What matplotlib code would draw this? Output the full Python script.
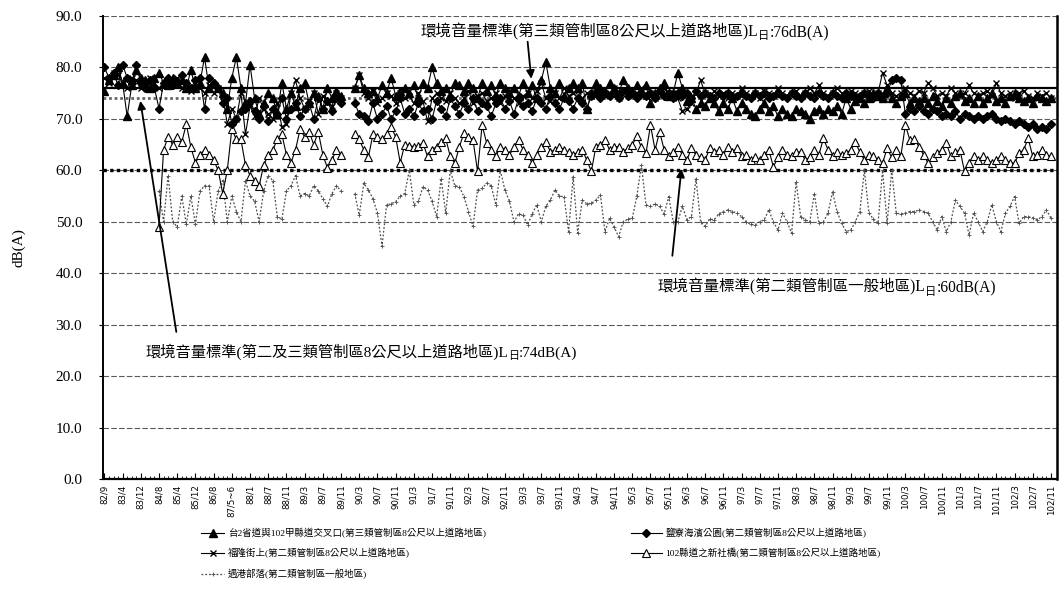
import matplotlib
matplotlib.use('Agg')
import matplotlib.pyplot as plt
import numpy as np

# x tick labels (one every 4 sampling points)
tick_labels = ['82/9', '83/4', '83/12', '84/8', '85/4', '85/12', '86/8', '87/5~6', '88/1',
               '88/7', '88/11', '89/3', '89/7', '89/11', '90/3', '90/7', '90/11', '91/3',
               '91/7', '91/11', '92/3', '92/7', '92/11', '93/3', '93/7', '93/11', '94/3',
               '94/7', '94/11', '95/3', '95/7', '95/11', '96/3', '96/7', '96/11', '97/3',
               '97/7', '97/11', '98/3', '98/7', '98/11', '99/3', '99/7', '99/11', '100/3',
               '100/7', '100/11', '101/3', '101/7', '101/11', '102/3', '102/7', '102/11']

names = ['台2省道與102甲縣道交叉口(第三類管制區8公尺以上道路地區)',
         '鹽寮海濱公園(第二類管制區8公尺以上道路地區)',
         '福隆街上(第二類管制區8公尺以上道路地區)',
         '102縣道之新社橋(第二類管制區8公尺以上道路地區)',
         '遇港部落(第二類管制區一般地區)']

# dB(A) readings, None = no measurement
site_a = [75.5, 77.5, 78.5, 80, 77, 70.5, 76.5, 79.5, 78, 77.5, 76, 78,
          79, 77, 76.5, 78, 77, 77.5, 76, 79.5, 76, 77, 82, 76,
          77, 76, 75, 72, 78, 82, 76, 73, 80.5, 74, 71, 73,
          75, 74, 71, 77, 72, 75, 72.5, 76, 77, 73, 75, 74.5, 72, 76, 74, 75.5, 74.5,
          None, None,
          76, 78.5, 76, 75, 75.5, 74, 76.5, 75, 78, 74.5, 75.5, 76,
          75, 76.5, 74, 77, 76, 80, 77, 75.5, 76, 74.5, 77, 76.5,
          75.5, 77, 76, 74, 77, 75.5, 76.5, 74.5, 77, 76, 75, 76,
          74.5, 77, 75, 76.5, 74, 77.5, 81, 76, 75, 77, 74.5, 76, 77,
          76, 77, 72, 75, 77, 76, 75.5, 77, 76, 75, 77.5, 76, 75, 76.5,
          75, 76.5, 73, 75, 76, 77, 74.5, 75, 79, 76, 73.5, 74, 72, 73,
          72.5, 74, 73, 71.5, 73, 72, 74, 71.5, 73, 72, 71, 70.5,
          72, 73, 71.5, 72.5, 70.5, 72, 71, 70.5, 72, 71.5, 71, 70,
          71.5, 72, 71, 72, 71.5, 72.5, 71, 74, 72, 73.5, 74, 73,
          74, 75, 74.5, 74, 76, 74, 73, 74.5, 75, 73, 74, 73.5,
          74, 73, 74.5, 73.5, 72.5, 74, 73, 74.5, 75, 73.5, 74, 73,
          74.5, 73, 74, 75, 73.5, 74, 73, 74.5, 75, 74, 73.5, 74, 73, 74.5, 74, 73.5, 74]

site_b = [80, 78, 79, 76.5, 80.5, 78, 77, 80.5, 77, 76, 77.5, 76,
          72, 77, 78, 76.5, 77, 78.5, 77, 76, 77.5, 78, 72, 78,
          77, 76, 73, 74, 69, 70, 71.5, 72, 73.5, 71.5, 70, 72.5,
          69.5, 72, 71, 74, 70, 72, 73, 70.5, 72, 73, 70, 74, 72, 73.5, 71.5, 74, 73,
          None, None,
          73, 71, 70.5, 69.5, 73, 70, 71, 72.5, 70, 71.5, 74, 71,
          72, 70.5, 73, 71.5, 72, 70, 73.5, 72, 70.5, 74, 72.5, 71,
          73, 72, 74, 71.5, 73, 72.5, 70.5, 73, 74, 72, 73.5, 71,
          74, 72.5, 73, 71.5, 74, 73, 72, 74.5, 73, 72, 74, 73.5, 72,
          74, 73, 72, 74.5, 75, 74, 75, 74.5, 75, 74, 75.5, 74.5, 75, 74,
          75, 74.5, 75, 74, 75.5, 74.5, 75, 74, 75, 74.5, 75, 74, 75.5, 74.5,
          75, 74.5, 74, 75, 74.5, 75, 74, 74.5, 75, 74.5, 74, 75,
          74.5, 75, 74, 74.5, 75, 74.5, 74, 75, 74.5, 74, 75, 74.5,
          74, 75, 74.5, 74, 75, 74.5, 74, 75, 74.5, 74, 74.5, 75,
          74.5, 74, 75, 74.5, 75, 77.5, 78, 77.5, 71, 72, 71.5, 72.5,
          71.5, 71, 72, 71.5, 70.5, 71, 70.5, 71.5, 70, 71, 70.5, 70,
          70.5, 70, 70.5, 71, 70, 69.5, 70, 69.5, 69, 69.5, 69, 68.5, 69, 68, 68.5, 68, 69]

site_c = [78, 77, 79, 78.5, 77, 76, 78, 77.5, 76, 77, 78, 77,
          76, 77, 76.5, 77, 78, 76, 77, 75.5, 77, 76, 75, 76.5,
          75, 76, 74.5, 69, 72, 70, 75, 67, 72.5, 70.5, 74, 72,
          71, 70, 73, 68.5, 69, 75, 77.5, 74, 72, 73.5, 75, 71, 74.5, 73, 72.5, 75, 74,
          None, None,
          76, 78.5, 75, 74, 75.5, 73, 74, 75, 74.5, 73, 75, 74,
          74.5, 73, 75, 73.5, 69.5, 74, 75, 74, 73.5, 75, 74, 73,
          74, 75.5, 73, 74.5, 75, 73.5, 74, 75, 73, 74.5, 75.5, 74,
          73, 74.5, 75, 74, 75.5, 77, 74, 73.5, 75, 74, 76, 74.5, 75,
          75.5, 74, 75, 74.5, 76, 75, 74.5, 75, 76, 74, 75.5, 75, 74.5, 75,
          76, 74.5, 75, 74, 75.5, 76, 74.5, 75, 74, 71.5, 72, 73, 75, 77.5,
          75, 74, 75.5, 74.5, 75, 74, 75, 74.5, 76, 75, 74.5, 75,
          74, 75.5, 75, 74.5, 76, 75, 74.5, 75, 75.5, 74.5, 75, 76,
          75, 76.5, 75, 74.5, 75, 76, 75, 74.5, 75.5, 75, 74.5, 75,
          75.5, 74.5, 75, 79, 76.5, 75, 74.5, 75, 76, 75, 74.5, 75.5,
          75, 77, 76, 74.5, 75, 74.5, 76, 75, 74.5, 75, 76.5, 75,
          74.5, 75, 75.5, 74.5, 77, 75, 74.5, 75, 74, 75, 75.5, 74.5, 74, 75, 74.5, 75, 74]

site_d = [None] * 12 + [
          49, 64, 66.5, 65, 66.5, 65.5, 69, 64.5, 61.5, 63, 64, 63,
          62, 60, 55.5, 60, 68, 66, 66, 61, 59, 58, 57, 61,
          63, 64, 66, 67, 63, 61.5, 64, 68, 66.5, 67.5, 65, 67.5, 63, 60.5, 62, 64, 63,
          None, None,
          67, 66, 64, 62.5, 67, 66.5, 66, 67, 68.5, 66.5, 61.5, 65,
          64.8, 64.6, 64.8, 65.3, 62.7, 64, 64.6, 65.5, 66.2, 62.7, 61.4, 64.6,
          67.2, 66.5, 65.9, 59.8, 68.8, 65.3, 64, 62.7, 64.6, 64, 63, 64.5,
          65.9, 64, 63, 61.4, 63, 64.5, 65.6, 63.6, 64, 64.6, 64, 63.5, 63,
          63.5, 64, 62, 59.8, 64.6, 65, 65.9, 64, 64.6, 64.6, 63.5, 64.3, 65, 66.6,
          64.5, 63.3, 68.8, 64, 67.5, 64, 62.7, 63.5, 64.6, 63, 62, 64.3, 63, 62.5,
          62, 64.3, 63.5, 64, 63, 64.6, 63.5, 64.3, 62.7, 63, 62, 62.5,
          62, 63, 64, 60.7, 62.5, 64, 63, 62.7, 63.5, 63.6, 62, 62.5,
          64, 63, 66.2, 64, 62.7, 63.5, 63, 63.3, 64, 65.6, 63.5, 62,
          63, 62.7, 62, 61.4, 64.3, 62.5, 64, 62.7, 68.8, 65.9, 66, 64.6,
          63, 61.4, 62.5, 63.3, 64, 65.3, 62.7, 63.5, 64, 59.8, 61.5, 62.7,
          62, 62.7, 62, 61.4, 62, 62.7, 62, 61.5, 61.4, 63.3, 64, 66.2, 62.7, 63, 64, 63, 62.7]

site_e = [None] * 12 + [
          56, 50, 59, 50, 49, 55, 49.5, 55, 49.5, 56, 57, 57,
          50, 56, 58, 50, 55, 52, 50, 58, 55, 54, 50, 56,
          59, 58, 51, 50.5, 56, 57, 59, 55, 55.5, 55, 57, 56, 54.5, 53, 55.5, 57, 56,
          None, None,
          55.5, 51.3, 57.5, 56.2, 54.5, 51.7, 45.2, 53.3, 53.5, 53.9, 55, 55.5,
          60, 53.3, 54, 56.8, 56.2, 54, 51, 58.4, 51.7, 60, 57, 56.8,
          54.9, 52, 49.1, 56.2, 56.5, 57.5, 57, 53.3, 60, 56.2, 54, 50,
          51.5, 51.3, 49.4, 51.5, 53.3, 50, 53, 54.2, 56.2, 55, 54.9, 48.1, 58.8,
          47.8, 54.2, 53.5, 53.6, 54.2, 55.2, 48.1, 50.7, 49, 47.1, 50, 50.5, 50.7, 55,
          61, 53.3, 53, 53.5, 53, 51.5, 54.9, 50, 50, 53, 50.4, 51, 58.4, 50,
          49.1, 50.5, 50.4, 51.5, 52, 52.3, 52, 51.7, 51, 50, 49.5, 49.4,
          50, 50.4, 52.3, 50, 48.4, 51.7, 50, 47.8, 57.8, 51, 50.4, 50,
          55.5, 49.7, 50, 51.7, 55.8, 52, 49.7, 48.1, 48.4, 50, 52, 60,
          51.7, 50.5, 49.7, 60, 49.7, 60, 51.7, 51.5, 51.7, 52, 52, 52.3,
          52, 51.7, 50, 48.4, 51, 48.1, 50, 54.2, 53, 51.7, 47.4, 51.7,
          50, 48.1, 50, 53.3, 50, 48.1, 51.7, 53, 54.9, 49.7, 51, 51, 50.8, 50.4, 51, 52.3, 50.7]

# standards (dB(A))
std_76 = 76
std_74 = 74
std_60 = 60

n = len(site_a)
x = np.arange(n)

fig = plt.figure(figsize=(10.59, 5.94), dpi=100)
ax = fig.add_axes([0.0973, 0.1936, 0.9007, 0.7794])

serif = ['Liberation Serif', 'Noto Sans CJK TC']
cjk = ['Liberation Serif', 'Noto Sans CJK TC', 'DejaVu Sans']

# grid lines every 10
for yv in range(10, 100, 10):
    ax.axhline(yv, color='0.35', lw=0.8, ls=(0, (5, 2)), zorder=1)

# standard lines
ax.axhline(std_76, color='black', lw=1.6, zorder=2)
ax.axhline(std_74, color='0.4', lw=2.0, ls=(0, (1, 1)), zorder=2)
ax.axhline(std_60, color='black', lw=2.4, ls=(0, (1, 1)), zorder=2)

ya = np.array(site_a, dtype=float)
yb = np.array(site_b, dtype=float)
yc = np.array(site_c, dtype=float)
yd = np.array(site_d, dtype=float)
ye = np.array(site_e, dtype=float)

le, = ax.plot(x, ye, color='0.3', lw=0.9, ls=(0, (1.5, 1.5)), marker='+', ms=2.5,
              mew=0.6, zorder=3)
ld, = ax.plot(x, yd, color='black', lw=0.8, marker='^', ms=5.5, mfc='white',
              mec='black', mew=0.8, zorder=4)
lb, = ax.plot(x, yb, color='black', lw=0.8, marker='D', ms=4.5, zorder=5)
lc, = ax.plot(x, yc, color='black', lw=0.8, marker='x', ms=5, mew=1.0, zorder=5)
la, = ax.plot(x, ya, color='black', lw=0.8, marker='^', ms=6, zorder=6)

ax.set_xlim(-0.3, n + 0.3)
ax.set_ylim(0, 90)
ax.set_yticks(np.arange(0, 91, 10))
ax.set_yticklabels(['%.1f' % v for v in np.arange(0, 91, 10)], fontfamily=serif,
                   fontsize=11)
ax.set_xticks(np.arange(0, n, 4))
ax.set_xticklabels(tick_labels, rotation=90, fontsize=6.2)
ax.set_xticks(x, minor=True)
ax.tick_params(axis='x', which='major', direction='in', length=4, width=0.8, pad=4)
ax.tick_params(axis='x', which='minor', direction='in', length=2, width=0.6)
ax.tick_params(axis='y', length=3, width=0.8, pad=12)
ax.set_ylabel('dB(A)', fontfamily=serif, fontsize=11, labelpad=22)

ax.spines['top'].set_visible(False)
ax.spines['left'].set_linewidth(1.4)
ax.spines['bottom'].set_linewidth(1.6)
ax.spines['right'].set_linewidth(1.8)


def standard_label(tx, ty, before, after, size):
    t1 = ax.text(tx, ty, before + 'L', fontfamily=cjk, fontsize=size, va='center',
                 ha='left', zorder=8)
    t2 = ax.annotate('日', xy=(1.0, -0.05), xycoords=t1, fontfamily=cjk,
                     fontsize=size * 0.72, va='bottom', ha='left', zorder=8)
    ax.annotate(after, xy=(1.0, 0.0), xycoords=(t2, t1), fontfamily=cjk, fontsize=size,
                va='bottom', ha='left', zorder=8)


standard_label(69.5, 86.9, '環境音量標準(第三類管制區8公尺以上道路地區)', ':76dB(A)', 11.2)
standard_label(121.5, 37.3, '環境音量標準(第二類管制區一般地區)', ':60dB(A)', 11.2)
standard_label(9.0, 24.7, '環境音量標準(第二及三類管制區8公尺以上道路地區)', ':74dB(A)', 11.0)

arrow = dict(arrowstyle='-|>', color='black', lw=1.3, mutation_scale=12,
             shrinkA=0, shrinkB=0)
ax.annotate('', xy=(93.8, 77.8), xytext=(93.0, 85.0), arrowprops=arrow, zorder=9)
ax.annotate('', xy=(126.8, 60.3), xytext=(124.8, 43.4), arrowprops=arrow, zorder=9)
ax.annotate('', xy=(7.9, 73.5), xytext=(15.8, 28.6), arrowprops=arrow, zorder=9)

# legend: two columns, drawn as two legends
leg_kw = dict(frameon=False, prop={'family': cjk, 'size': 6.8},
              labelspacing=1.05, handletextpad=0.4, borderaxespad=0)
fig.legend([la, lc, le], [names[0], names[2], names[4]], loc='upper left',
           bbox_to_anchor=(0.186, 0.117), handlelength=2.5, **leg_kw)
fig.legend([lb, ld], [names[1], names[3]], loc='upper left',
           bbox_to_anchor=(0.592, 0.117), handlelength=3.3, **leg_kw)

fig.savefig('out.png', dpi=100)
